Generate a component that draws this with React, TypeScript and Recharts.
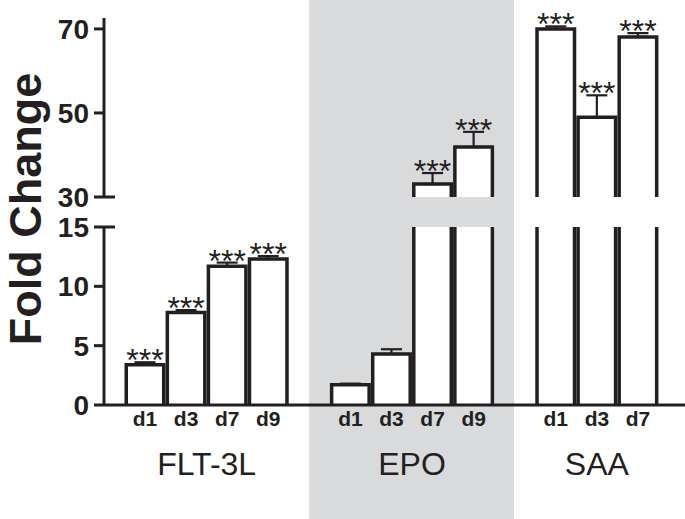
import React from "react";
import { BarChart, Bar, XAxis, YAxis, ErrorBar, LabelList } from "recharts";

const INK = "#231f20";
const FONT = '"Liberation Sans", Arial, Helvetica, sans-serif';

// data
const groups = ["FLT-3L", "EPO", "SAA"];
const days = [
  ["d1", "d3", "d7", "d9"],
  ["d1", "d3", "d7", "d9"],
  ["d1", "d3", "d7"],
];
const foldChange = [
  [3.4, 7.8, 11.7, 12.3],
  [1.7, 4.3, 33.1, 41.9],
  [70.0, 49.0, 68.1],
];
const sem = [
  [0.2, 0.2, 0.3, 0.25],
  [0.1, 0.4, 2.6, 3.6],
  [0.6, 5.2, 0.9],
];
const significance = [
  ["***", "***", "***", "***"],
  ["", "", "***", "***"],
  ["***", "***", "***"],
];
const lowerTicks = [0, 5, 10, 15];
const upperTicks = [30, 50, 70];

// layout
const W = 685;
const H = 519;
const AXIS_X = 104;
const PAD_L = 20.5;
const PAD_R = 26.5;
const UP_TOP = 18;
const UP_BOTTOM = 197;
const UP_H = 240;
const LOW_TOP = 227;
const LOW_BOTTOM = 405;
const X_AXIS_H = 30;
const LOW_DOMAIN = [0, 15];
const UP_DOMAIN = [30, 72.6];
const LOW_SCALE = (LOW_BOTTOM - LOW_TOP) / (LOW_DOMAIN[1] - LOW_DOMAIN[0]);
const UP_SCALE = (UP_BOTTOM - UP_TOP) / (UP_DOMAIN[1] - UP_DOMAIN[0]);
const SW = 3.5;

const rows: any[] = [];
groups.forEach((g, gi) => {
  if (gi > 0) rows.push({ key: `gap-${gi}`, day: "" });
  days[gi].forEach((d, i) => {
    const v = foldChange[gi][i];
    const e = sem[gi][i];
    const s = significance[gi][i];
    const low = v <= LOW_DOMAIN[1];
    const high = v >= UP_DOMAIN[0];
    rows.push({
      key: `${g} ${d}`,
      day: d,
      group: i === 0 ? g : "",
      groupSize: days[gi].length,
      low: v,
      lowErr: low ? [0, e] : null,
      lowStar: low && s ? { text: s, err: e } : null,
      high: high ? v : null,
      highErr: high ? [0, e] : null,
      highStar: high && s ? { text: s, err: e } : null,
    });
  });
});
const rowByKey: Record<string, any> = {};
rows.forEach((r) => (rowByKey[r.key] = r));
const PITCH = (W - AXIS_X - PAD_L - PAD_R) / rows.length;

// white bar, open at the bottom (and cut by the clip when it runs past the break)
const OpenBar = (p: any) => {
  const { x, y, width, height } = p;
  if (!width || !(height > 0)) return null;
  const l = x + SW / 2;
  const r = x + width - SW / 2;
  const b = y + height;
  return (
    <g>
      <rect x={l} y={y} width={r - l} height={height} fill="#fff" />
      <path d={`M${l},${b}V${y}H${r}V${b}`} fill="none" stroke={INK} strokeWidth={SW} />
    </g>
  );
};

const starLabel = (scale: number) => (p: any) => {
  const v = p.value;
  if (!v || !v.text) return null;
  const vb = p.viewBox ?? p;
  const cx = vb.x + vb.width / 2;
  const errTop = vb.y - v.err * scale;
  return (
    <text x={cx} y={errTop + 9} textAnchor="middle" fontSize={32} fontFamily={FONT} fill={INK}>
      {v.text}
    </text>
  );
};

const yTick = (breakAt: number) => (p: any) => {
  const { x, y, payload } = p;
  return (
    <g>
      <text x={x} y={y} dy="0.36em" textAnchor="end" fontSize={28} fontWeight="bold" fontFamily={FONT} fill={INK}>
        {payload.value}
      </text>
      {payload.value === breakAt && (
        <line x1={AXIS_X} x2={AXIS_X + 11} y1={y} y2={y} stroke={INK} strokeWidth={3} />
      )}
    </g>
  );
};

const XTick = (p: any) => {
  const row = rowByKey[p.payload.value];
  if (!row || !row.day) return null;
  return (
    <g>
      <text x={p.x} y={LOW_BOTTOM + 21} textAnchor="middle" fontSize={21} fontWeight="bold" fontFamily={FONT} fill={INK}>
        {row.day}
      </text>
      {row.group && (
        <text
          x={p.x + (PITCH * (row.groupSize - 1)) / 2}
          y={LOW_BOTTOM + 70}
          textAnchor="middle"
          fontSize={32}
          fontFamily={FONT}
          fill={INK}
        >
          {row.group}
        </text>
      )}
    </g>
  );
};

const axisStyle = { stroke: INK, strokeWidth: 3 };

export default function App() {
  return (
    <div style={{ position: "absolute", left: 0, top: 0, width: W, height: H, background: "#fff", fontFamily: FONT }}>
      {/* EPO band */}
      <div style={{ position: "absolute", left: 309, top: 0, width: 205, height: H, background: "#d9dadc" }} />

      {/* upper segment 30-70 */}
      <div style={{ position: "absolute", left: 0, top: 0 }}>
        <BarChart
          width={W}
          height={UP_H}
          data={rows}
          margin={{ top: UP_TOP, right: 0, bottom: UP_H - UP_BOTTOM, left: 0 }}
          barCategoryGap="0%"
          barGap={0}
        >
          <XAxis dataKey="key" hide padding={{ left: PAD_L, right: PAD_R }} interval={0} />
          <YAxis
            type="number"
            width={AXIS_X}
            domain={UP_DOMAIN}
            ticks={upperTicks}
            interval={0}
            axisLine={axisStyle}
            tickLine={axisStyle}
            tickSize={10}
            tickMargin={5}
            tick={yTick(30)}
          />
          <Bar dataKey="high" shape={OpenBar} isAnimationActive={false}>
            <ErrorBar dataKey="highErr" width={10.5} stroke={INK} strokeWidth={2.2} isAnimationActive={false} />
            <LabelList dataKey="highStar" content={starLabel(UP_SCALE)} />
          </Bar>
        </BarChart>
      </div>

      {/* lower segment 0-15 */}
      <div style={{ position: "absolute", left: 0, top: 0 }}>
        <BarChart
          width={W}
          height={H}
          data={rows}
          margin={{ top: LOW_TOP, right: 0, bottom: H - LOW_BOTTOM - X_AXIS_H, left: 0 }}
          barCategoryGap="0%"
          barGap={0}
        >
          <XAxis
            dataKey="key"
            height={X_AXIS_H}
            padding={{ left: PAD_L, right: PAD_R }}
            interval={0}
            axisLine={axisStyle}
            tickLine={false}
            tick={XTick}
          />
          <YAxis
            type="number"
            width={AXIS_X}
            domain={LOW_DOMAIN}
            ticks={lowerTicks}
            interval={0}
            allowDataOverflow
            axisLine={axisStyle}
            tickLine={axisStyle}
            tickSize={10}
            tickMargin={5}
            tick={yTick(15)}
            label={{
              content: () => (
                <text
                  transform="translate(41,209) rotate(-90)"
                  textAnchor="middle"
                  fontSize={45}
                  fontWeight="bold"
                  fontFamily={FONT}
                  fill={INK}
                >
                  Fold Change
                </text>
              ),
            }}
          />
          <Bar dataKey="low" shape={OpenBar} isAnimationActive={false}>
            <ErrorBar dataKey="lowErr" width={10.5} stroke={INK} strokeWidth={2.2} isAnimationActive={false} />
            <LabelList dataKey="lowStar" content={starLabel(LOW_SCALE)} />
          </Bar>
        </BarChart>
      </div>
    </div>
  );
}
